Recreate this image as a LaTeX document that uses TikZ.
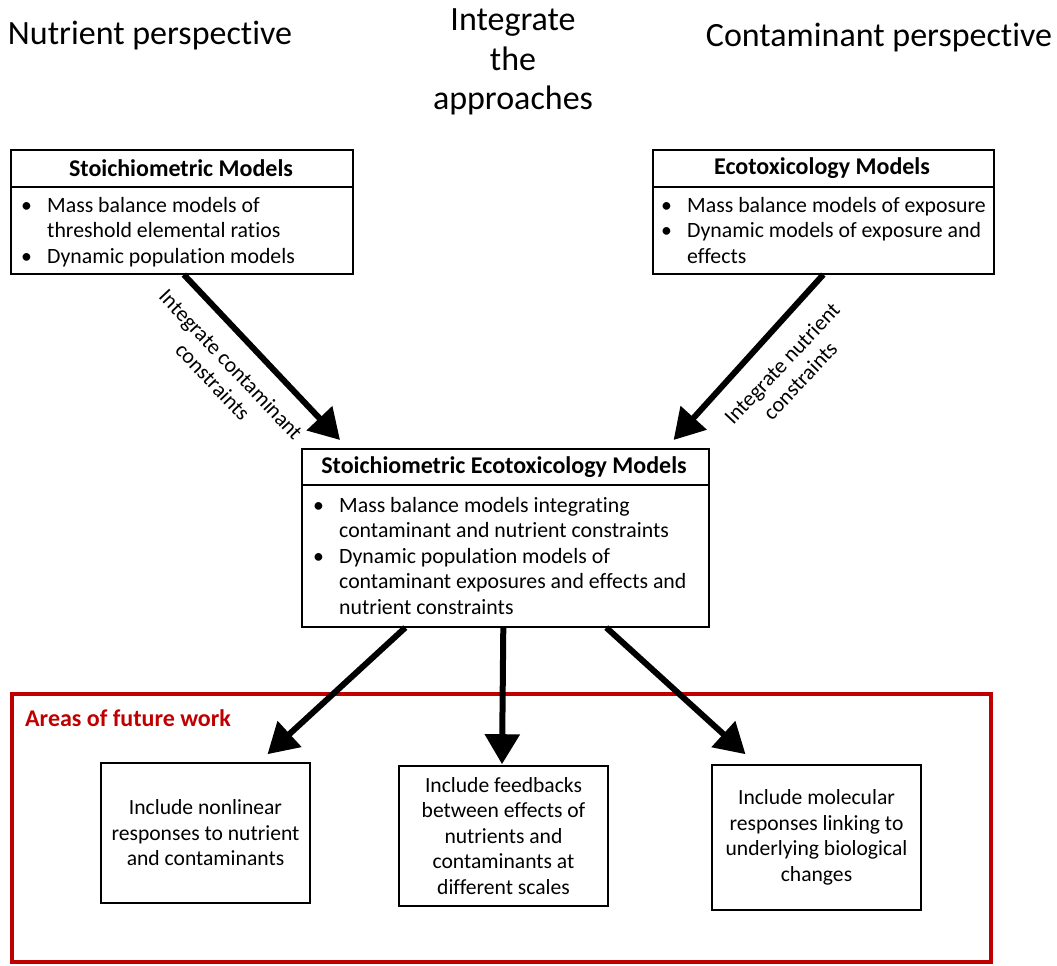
\documentclass[tikz,border=0pt]{standalone}
\usepackage{fontspec}
\setmainfont{Carlito}[Ligatures=NoCommon]
\usetikzlibrary{arrows.meta,calc}
\definecolor{frred}{RGB}{192,0,0}
\newcommand\bl{\textbullet}
\newenvironment{bullist}{\begin{tabular}[t]{@{}p{26pt}@{}l@{}}}{\end{tabular}}
\begin{document}
\begin{tikzpicture}[x=1pt,y=-1pt,
  box/.style={draw, line width=1.6pt, inner sep=0},
  ttl/.style={font=\fontsize{24}{28}\selectfont\bfseries, inner sep=0},
  body/.style={font=\fontsize{21.8}{25.6}\selectfont, align=left, inner sep=0, anchor=base west},
  big/.style={font=\fontsize{34}{39.5}\selectfont, align=center, inner sep=0},
  lbl/.style={font=\fontsize{21.8}{25}\selectfont, align=center, inner sep=0},
  small/.style={box, font=\fontsize{21.6}{25.5}\selectfont, align=center, minimum width=209pt},
  fat/.style={-{Triangle[length=30pt,width=34pt]}, line width=6pt}
]
\fill[white] (0,0) rectangle (1057,966);
\useasboundingbox (0,0) rectangle (1057,966);

% headings
\node[big] (hn) at (150,36) {Nutrient perspective};
\node[big] (hi) at (513,62) {Integrate\\the\\approaches};
\node[big] (hc) at (879,38) {Contaminant perspective};

% stoichiometric models
\node[box, anchor=north west, minimum width=342pt, minimum height=124pt] (s) at (10,149) {};
\draw[line width=1.6pt] ([yshift=-38pt]s.north west) -- ([yshift=-38pt]s.north east);
\node[ttl] (st) at (181,168) {Stoichiometric Models};
\node[body] (sb) at (21,212) {\begin{bullist}\bl & Mass balance models of\\ & threshold elemental ratios\\ \bl & Dynamic population models\end{bullist}};

% ecotoxicology models
\node[box, anchor=north west, minimum width=341pt, minimum height=124pt] (e) at (652,149) {};
\draw[line width=1.6pt] ([yshift=-38pt]e.north west) -- ([yshift=-38pt]e.north east);
\node[ttl] (et) at (822,168) {Ecotoxicology Models};
\node[body] (eb) at (661,212) {\begin{bullist}\bl & Mass balance models of exposure\\ \bl & Dynamic models of exposure and\\ & effects\end{bullist}};

% stoichiometric ecotoxicology models
\node[box, anchor=north west, minimum width=407pt, minimum height=178pt] (m) at (301,448) {};
\draw[line width=1.6pt] ([yshift=-37pt]m.north west) -- ([yshift=-37pt]m.north east);
\node[ttl] (mt) at (504,467) {Stoichiometric Ecotoxicology Models};
\node[body] (mb) at (313,512) {\begin{bullist}\bl & Mass balance models integrating\\ & contaminant and nutrient constraints\\ \bl & Dynamic population models of\\ & contaminant exposures and effects and\\ & nutrient constraints\end{bullist}};

% arrows in
\draw[fat] ([xshift=2pt]s.south) -- ([xshift=39pt,yshift=8pt]m.north west);
\draw[fat] (e.south) -- ([xshift=-36pt,yshift=8pt]m.north east);
\node[lbl, rotate=-46.6] (l1) at (222,373) {Integrate contaminant\\constraints};
\node[lbl, rotate=46.8] (l2) at (791,372) {Integrate nutrient\\constraints};

% future work frame
\node[draw=frred, line width=4pt, minimum width=979pt, minimum height=268pt, inner sep=0] (fw) at (501.5,828) {};
\node[font=\fontsize{24}{28}\selectfont\bfseries, text=frred, anchor=west, inner sep=0] (fwl) at (25,718) {Areas of future work};

% bottom boxes
\node[small, minimum height=140pt] (b1) at (205.5,833) {Include nonlinear\\responses to nutrient\\and contaminants};
\node[small, minimum height=140pt] (b2) at (503.5,836) {Include feedbacks\\between effects of\\nutrients and\\contaminants at\\different scales};
\node[small, minimum height=145pt] (b3) at (816.5,837.5) {Include molecular\\responses linking to\\underlying biological\\changes};

% arrows out
\draw[fat] ([xshift=-100pt]m.south) -- ([xshift=62pt,yshift=8pt]b1.north);
\draw[fat] ([xshift=-2pt]m.south) -- ([xshift=-1.5pt,yshift=1pt]b2.north);
\draw[fat] ([xshift=101pt]m.south) -- ([xshift=-71pt,yshift=10pt]b3.north);
\end{tikzpicture}
\end{document}
